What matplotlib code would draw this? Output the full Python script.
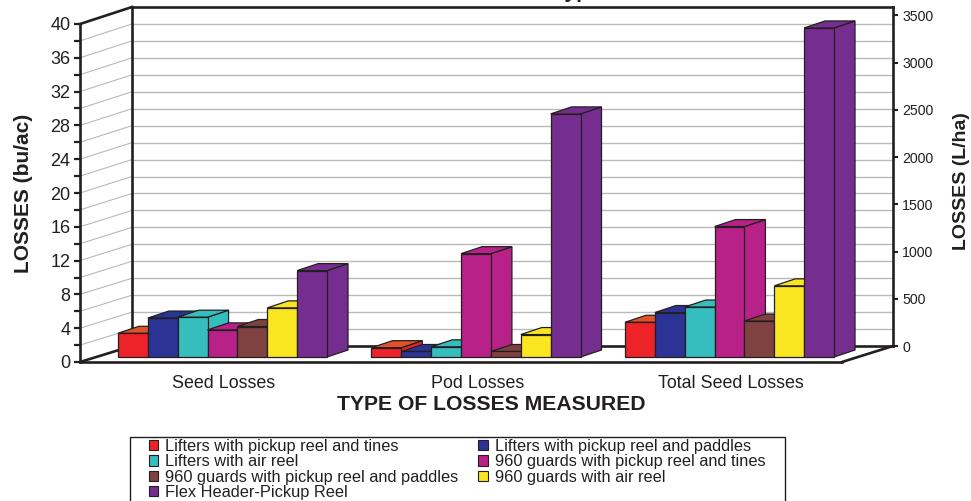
import matplotlib
matplotlib.use("Agg")
import matplotlib.pyplot as plt
from matplotlib.patches import Polygon, Rectangle

plt.rcParams['font.family'] = ['Liberation Sans', 'DejaVu Sans']

W, H = 971, 501
INK = '#231F20'
GRID = '#B9B9B9'

categories = ['Seed Losses', 'Pod Losses', 'Total Seed Losses']
series_names = [
    'Lifters with pickup reel and tines',
    'Lifters with pickup reel and paddles',
    'Lifters with air reel',
    '960 guards with pickup reel and tines',
    '960 guards with pickup reel and paddles',
    '960 guards with air reel',
    'Flex Header-Pickup Reel',
]
lifters_tines = [2.8, 1.1, 4.1]
lifters_paddles = [4.6, 0.65, 5.25]
lifters_air = [4.7, 1.2, 5.9]
guards_tines = [3.2, 12.2, 15.4]
guards_paddles = [3.6, 0.65, 4.25]
guards_air = [5.8, 2.65, 8.4]
flex_header = [10.2, 28.7, 38.85]
series_values = [lifters_tines, lifters_paddles, lifters_air, guards_tines,
                 guards_paddles, guards_air, flex_header]

front_colors = ['#EE2329', '#2B3494', '#36BDBD', '#B82187', '#7F4240', '#F9E621', '#762D90']
top_colors = ['#E0522A', '#2B3494', '#36BDBD', '#B82187', '#7F4240', '#F9E621', '#762D90']

left_ticks = list(range(0, 41, 4))
left_minor = list(range(0, 41, 2))
right_ticks = list(range(0, 3501, 500))
bu_ac_max = 40
l_ha_max = 3589

# Pixel layout of the oblique box and of the bar plane
PX_GROUP0, PX_GROUP_STEP = 222.5, 253.5
PX_BAR_BASE, PX_PER_UNIT = 357.0, 8.47
PX_BAR_W = 29.86
PX_DEPTH_X, PX_DEPTH_Y = 21.0, 7.0
BOX = dict(fl=80, fr=842, bl=132, br=893, ftop=24, fbot=362, btop=7, bbot=346)

fig = plt.figure(figsize=(W / 100, H / 100), dpi=100, facecolor='white')


def axes_at(l, t, r, b, **kw):
    return fig.add_axes([l / W, 1 - b / H, (r - l) / W, (b - t) / H], **kw)


# Main drawing surface: x in category units, y in bu/ac on the bar plane
ax = fig.add_axes([0, 0, 1, 1])
ax.set_xlim((0 - PX_GROUP0) / PX_GROUP_STEP, (W - PX_GROUP0) / PX_GROUP_STEP)
ax.set_ylim((PX_BAR_BASE - H) / PX_PER_UNIT, PX_BAR_BASE / PX_PER_UNIT)
ax.axis('off')


def px(x, y):
    return (x - PX_GROUP0) / PX_GROUP_STEP, (PX_BAR_BASE - y) / PX_PER_UNIT


def line_px(x0, y0, x1, y1, **kw):
    a, b = px(x0, y0), px(x1, y1)
    ax.plot([a[0], b[0]], [a[1], b[1]], solid_capstyle='projecting', **kw)


# Gridlines on the side wall and back wall
for v in left_minor[1:-1]:
    yf = BOX['fbot'] - v * (BOX['fbot'] - BOX['ftop']) / bu_ac_max
    yb = BOX['bbot'] - v * (BOX['bbot'] - BOX['btop']) / bu_ac_max
    line_px(BOX['fl'], yf, BOX['bl'], yb, color=GRID, lw=0.8, zorder=1)
    line_px(BOX['bl'], yb, BOX['br'], yb, color=GRID, lw=1.0, zorder=1)

# Heavy outline of the box
for seg in [(BOX['fl'], BOX['ftop'], BOX['bl'], BOX['btop']),
            (BOX['bl'], BOX['btop'], BOX['br'], BOX['btop']),
            (BOX['bl'], BOX['btop'], BOX['bl'], BOX['bbot']),
            (BOX['fl'], BOX['fbot'], BOX['bl'], BOX['bbot']),
            (BOX['bl'], BOX['bbot'], BOX['br'], BOX['bbot']),
            (BOX['fl'], BOX['fbot'], BOX['fr'], BOX['fbot']),
            (BOX['fr'], BOX['fbot'], BOX['br'], BOX['bbot'])]:
    line_px(*seg, color=INK, lw=1.9, zorder=2)

# Bars with oblique side and top faces, painted left to right
bar_w = PX_BAR_W / PX_GROUP_STEP
dx = PX_DEPTH_X / PX_GROUP_STEP
dy = PX_DEPTH_Y / PX_PER_UNIT
z = 3
for g in range(len(categories)):
    for k, values in enumerate(series_values):
        v = values[g]
        x0 = g + (k - 3.5) * bar_w
        x1 = x0 + bar_w
        ec = dict(edgecolor=INK, linewidth=0.9, joinstyle='miter')
        ax.add_patch(Polygon([(x1, 0), (x1 + dx, dy), (x1 + dx, v + dy), (x1, v)],
                             facecolor=front_colors[k], zorder=z, **ec))
        ax.add_patch(Polygon([(x0, v), (x0 + dx, v + dy), (x1 + dx, v + dy), (x1, v)],
                             facecolor=top_colors[k], zorder=z, **ec))
        ax.bar(x0, v, width=bar_w, align='edge', color=front_colors[k], zorder=z, **ec)
        z += 1

# Category labels and axis titles
for g, name in enumerate(categories):
    ax.text(g + 0.005, px(0, 384)[1], name, ha='center', va='center',
            fontsize=12.9, color=INK)
ax.text(*px(491, 404), 'TYPE OF LOSSES MEASURED', ha='center', va='center',
        fontsize=15.2, fontweight='bold', color=INK)
ax.text(*px(23, 193), 'LOSSES (bu/ac)', rotation=90, ha='center', va='center',
        fontsize=15.0, fontweight='bold', color=INK)
ax.text(*px(962, 181.5), 'LOSSES (L/ha)', rotation=90, ha='center', va='center',
        fontsize=14.0, fontweight='bold', color=INK)
ax.text(*px(554, -1.5), 'Type', ha='left', va='baseline', fontsize=15.2,
        fontweight='bold', color=INK, clip_on=False)

# Left value axis in bu/ac
ax_left = axes_at(BOX['fl'], BOX['ftop'], BOX['bl'], BOX['fbot'])
ax_left.patch.set_visible(False)
ax_left.set_ylim(0, bu_ac_max)
ax_left.set_xticks([])
for s in ('top', 'right', 'bottom'):
    ax_left.spines[s].set_visible(False)
ax_left.spines['left'].set_linewidth(1.9)
ax_left.spines['left'].set_color(INK)
ax_left.set_yticks(left_ticks)
ax_left.set_yticks(left_minor, minor=True)
ax_left.tick_params(axis='y', which='both', length=4.5, width=1.6, color=INK,
                    labelsize=13, labelcolor=INK, pad=2.5)

# Right value axis in L/ha
ax_right = axes_at(BOX['fr'], BOX['btop'], BOX['br'], BOX['bbot'])
ax_right.patch.set_visible(False)
ax_right.set_ylim(0, l_ha_max)
ax_right.set_xticks([])
for s in ('top', 'left', 'bottom'):
    ax_right.spines[s].set_visible(False)
ax_right.spines['right'].set_linewidth(1.9)
ax_right.spines['right'].set_color(INK)
ax_right.yaxis.tick_right()
ax_right.set_yticks(right_ticks)
ax_right.tick_params(axis='y', length=3.5, width=1.5, color=INK, labelsize=10.2,
                     labelcolor=INK, pad=3)

# Legend box runs off the bottom edge of the figure
x0, y1 = px(130, 437)
x1, y0 = px(785, 520)
ax.add_patch(Rectangle((x0, y0), x1 - x0, y1 - y0, facecolor='white',
                       edgecolor=INK, linewidth=1.0, zorder=100))
handles = [Rectangle((0, 0), 1, 1, facecolor=c, edgecolor=INK, linewidth=0.8)
           for c in front_colors]
order = [0, 2, 4, 6, 1, 3, 5]
leg = ax.legend([handles[i] for i in order], [series_names[i] for i in order],
                ncols=2, frameon=False, fontsize=11.8,
                loc='upper left', bbox_to_anchor=(148.5 / W, 1 - 439 / H),
                bbox_transform=fig.transFigure, borderpad=0, borderaxespad=0,
                handlelength=0.61, handleheight=0.61, handletextpad=0.38,
                labelspacing=0.02, columnspacing=1.25, labelcolor=INK)
leg.set_zorder(101)

fig.savefig('out.png', dpi=100)
